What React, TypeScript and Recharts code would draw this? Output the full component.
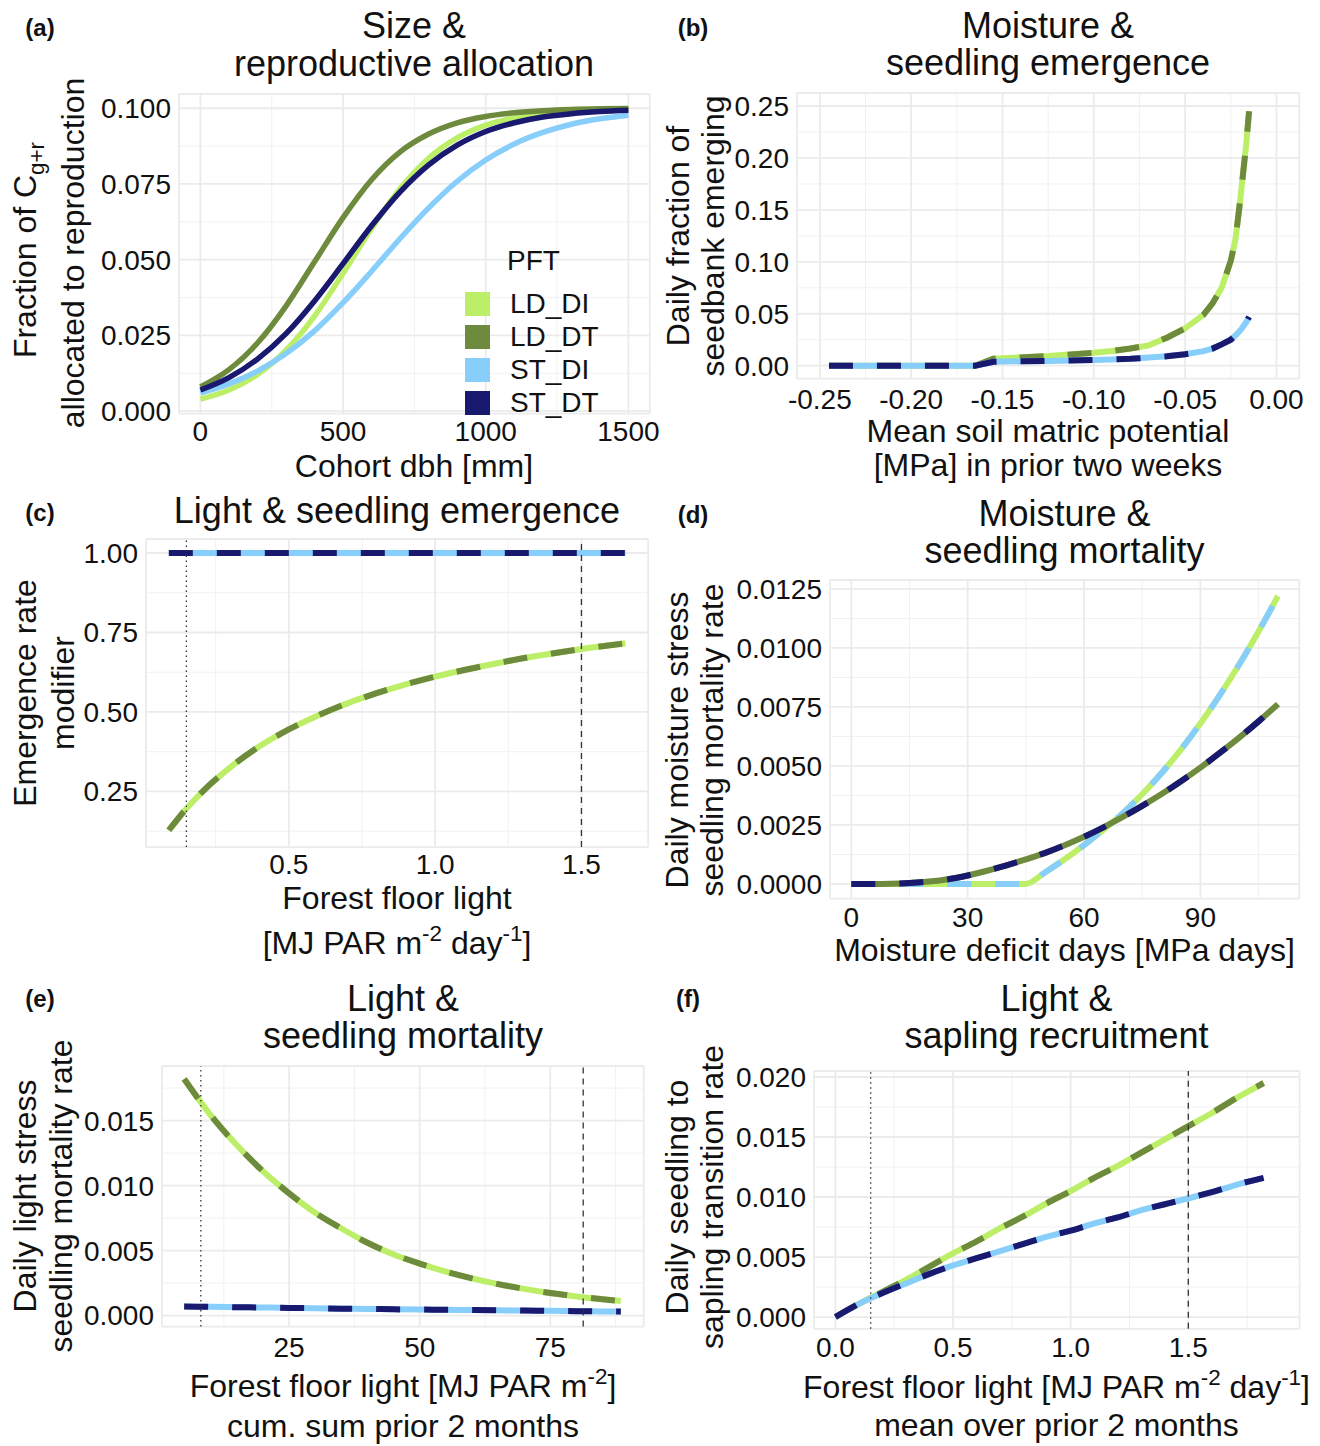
import { LineChart, Line, XAxis, YAxis, CartesianGrid, ReferenceLine } from "recharts";
import type { ReactNode } from "react";

const FONT = '"Liberation Sans", Arial, Helvetica, sans-serif';
const INK = "#111111";
const TICK = 28;
const AXT = 32;
const TTL = 36;
const TAG = 24;

// PFT colours
const LD_DI = "#bcee68";
const LD_DT = "#6e8b3d";
const ST_DI = "#87cefa";
const ST_DT = "#191970";
const pftNames = ["LD_DI", "LD_DT", "ST_DI", "ST_DT"];
const pftColors = [LD_DI, LD_DT, ST_DI, ST_DT];

// (a) size & reproductive allocation
const dbhMm = [0, 100, 200, 300, 400, 500, 600, 700, 800, 900, 1000, 1100, 1200, 1300, 1400, 1500];
const allocLdDi = [0.004, 0.007, 0.0121, 0.0201, 0.0314, 0.0455, 0.0603, 0.0735, 0.0835, 0.0902, 0.0944, 0.0968, 0.0982, 0.099, 0.0995, 0.0997];
const allocLdDt = [0.008, 0.0137, 0.0225, 0.0347, 0.0493, 0.0639, 0.0764, 0.0856, 0.0915, 0.0952, 0.0973, 0.0985, 0.0992, 0.0996, 0.0998, 0.0999];
const allocStDi = [0.006, 0.009, 0.0132, 0.019, 0.0265, 0.0358, 0.0462, 0.057, 0.0671, 0.0759, 0.0829, 0.0882, 0.092, 0.0947, 0.0965, 0.0977];
const allocStDt = [0.007, 0.0111, 0.0172, 0.0256, 0.0364, 0.0487, 0.0612, 0.0724, 0.0813, 0.0878, 0.0923, 0.0952, 0.0971, 0.0982, 0.0989, 0.0993];
const dbhTicks = [0, 500, 1000, 1500];
const dbhMinor = [250, 750, 1250];
const allocTicks = [0, 0.025, 0.05, 0.075, 0.1];
const allocMinor = [0.0125, 0.0375, 0.0625, 0.0875];

// (b) moisture & seedling emergence
const psiMpa = [-0.245, -0.225, -0.2, -0.175, -0.165, -0.155, -0.15, -0.125, -0.1, -0.09, -0.08, -0.07, -0.06, -0.05, -0.04, -0.035, -0.03, -0.025, -0.0225, -0.02, -0.0165, -0.015];
const emergeLd = [0, 0, 0, 0, 0, 0.0068, 0.0072, 0.0093, 0.0125, 0.0142, 0.0165, 0.0196, 0.027, 0.036, 0.049, 0.06, 0.075, 0.101, 0.121, 0.157, 0.214, 0.245];
const emergeSt = [0, 0, 0, 0, 0, 0.0038, 0.004, 0.0045, 0.0055, 0.006, 0.0066, 0.0078, 0.009, 0.011, 0.014, 0.0165, 0.0205, 0.025, 0.029, 0.0335, 0.042, 0.047];
const psiTicks = [-0.25, -0.2, -0.15, -0.1, -0.05, 0];
const psiMinor = [-0.225, -0.175, -0.125, -0.075, -0.025];
const emergeTicks = [0, 0.05, 0.1, 0.15, 0.2, 0.25];
const emergeMinor = [0.025, 0.075, 0.125, 0.175, 0.225];

// (c) light & seedling emergence
const lightDay = [0.09, 0.15, 0.2, 0.3, 0.4, 0.5, 0.6, 0.7, 0.8, 0.9, 1.0, 1.1, 1.2, 1.3, 1.4, 1.5, 1.65];
const lightModLd = [0.128, 0.196, 0.245, 0.326, 0.392, 0.445, 0.489, 0.527, 0.559, 0.587, 0.611, 0.632, 0.651, 0.669, 0.684, 0.698, 0.716];
const lightModSt = [1, 1, 1, 1, 1, 1, 1, 1, 1, 1, 1, 1, 1, 1, 1, 1, 1];
const lightDayTicks = [0.5, 1, 1.5];
const lightDayMinor = [0.25, 0.75, 1.25];
const modTicks = [0.25, 0.5, 0.75, 1];
const modMinor = [0.125, 0.375, 0.625, 0.875];

// (d) moisture & seedling mortality
const mddDays = [0, 5, 10, 15, 20, 25, 30, 35, 40, 45, 50, 55, 60, 65, 70, 75, 80, 85, 90, 95, 100, 105, 110];
const moistMortDi = [0, 0, 0, 0, 0, 0, 0, 0, 0, 0, 0.0005, 0.00105, 0.00165, 0.0023, 0.003, 0.0038, 0.0047, 0.0057, 0.0068, 0.008, 0.0093, 0.0107, 0.0122];
const moistMortDt = [0, 0, 0.00001, 0.00004, 0.0001, 0.0002, 0.00036, 0.00056, 0.00079, 0.00104, 0.00132, 0.00164, 0.002, 0.0024, 0.00284, 0.00331, 0.00381, 0.00435, 0.00493, 0.00555, 0.0062, 0.00689, 0.00762];
const mddTicks = [0, 30, 60, 90];
const mddMinor = [15, 45, 75, 105];
const moistMortTicks = [0, 0.0025, 0.005, 0.0075, 0.01, 0.0125];
const moistMortMinor = [0.00125, 0.00375, 0.00625, 0.00875, 0.01125];

// (e) light & seedling mortality
const lightCum = [4.9, 10, 15, 20, 25, 30, 35, 40, 45, 50, 55, 60, 65, 70, 75, 80, 85, 88.5];
const lightMortLd = [0.0182, 0.0154, 0.0131, 0.0111, 0.0094, 0.0079, 0.0067, 0.0056, 0.0047, 0.004, 0.00338, 0.00286, 0.00242, 0.00205, 0.00173, 0.00147, 0.00125, 0.00112];
const lightMortSt = [0.0007, 0.00067, 0.00064, 0.00062, 0.00059, 0.00056, 0.00053, 0.00051, 0.00048, 0.00046, 0.00044, 0.00042, 0.0004, 0.00038, 0.00036, 0.00034, 0.00032, 0.00031];
const lightCumTicks = [25, 50, 75];
const lightCumMinor = [12.5, 37.5, 62.5, 87.5];
const lightMortTicks = [0, 0.005, 0.01, 0.015];
const lightMortMinor = [0.0025, 0.0075, 0.0125, 0.0175];

// (f) light & sapling recruitment
const lightMean = [0, 0.1, 0.2, 0.3, 0.4, 0.5, 0.6, 0.7, 0.8, 0.9, 1.0, 1.1, 1.2, 1.3, 1.4, 1.5, 1.6, 1.7, 1.82];
const transLd = [0, 0.0011, 0.0021, 0.0031, 0.0042, 0.0053, 0.0063, 0.0074, 0.0084, 0.0095, 0.0105, 0.0116, 0.0126, 0.0137, 0.0148, 0.0159, 0.017, 0.0182, 0.0195];
const transSt = [0, 0.0011, 0.002, 0.0028, 0.0036, 0.0043, 0.0049, 0.0055, 0.0061, 0.0067, 0.0072, 0.0078, 0.0083, 0.0089, 0.0094, 0.0099, 0.0104, 0.011, 0.0116];
const lightMeanTicks = [0, 0.5, 1, 1.5];
const lightMeanMinor = [0.25, 0.75, 1.25, 1.75];
const transTicks = [0, 0.005, 0.01, 0.015, 0.02];
const transMinor = [0.0025, 0.0075, 0.0125, 0.0175];

// light thresholds (daily mean and 2-month sum)
const dayLow = 0.15;
const dayHigh = 1.5;
const cumLow = 8.1;
const cumHigh = 81.3;

type Row = Record<string, number>;
function rows(x: number[], cols: Record<string, number[]>): Row[] {
  return x.map((v, i) => {
    const r: Row = { x: v };
    for (const k of Object.keys(cols)) r[k] = cols[k][i];
    return r;
  });
}

type Series = { key: string; color: string; dashed?: boolean };
const pairSeries: Series[] = [
  { key: "LD_DI", color: LD_DI },
  { key: "LD_DT", color: LD_DT, dashed: true },
  { key: "ST_DI", color: ST_DI },
  { key: "ST_DT", color: ST_DT, dashed: true },
];

interface PanelProps {
  box: [number, number, number, number];
  data: Row[];
  xDomain: [number, number];
  yDomain: [number, number];
  xTicks: number[];
  yTicks: number[];
  xMinor: number[];
  yMinor: number[];
  xFmt: (v: number) => string;
  yFmt: (v: number) => string;
  series: Series[];
  xGap: number;
  curve: "monotone" | "linear";
  lw: number;
  vlines?: { x: number; dash: string }[];
}

const YW = 130;
const PT = 10;
const PR = 10;
const XH = 60;

function Panel(p: PanelProps) {
  const [l, t, r, b] = p.box;
  const tick = { fontSize: TICK, fill: INK, fontFamily: FONT };
  return (
    <div style={{ position: "absolute", left: l - YW, top: t - PT }}>
      <LineChart width={r - l + YW + PR} height={b - t + PT + XH} data={p.data} margin={{ top: PT, right: PR, bottom: 0, left: 0 }}>
        <CartesianGrid stroke="#f1f1f1" strokeWidth={1} horizontalValues={p.yMinor} verticalValues={p.xMinor} />
        <CartesianGrid stroke="#ebebeb" strokeWidth={1.8} />
        <XAxis type="number" dataKey="x" domain={p.xDomain} ticks={p.xTicks} allowDataOverflow interval={0}
          axisLine={false} tickLine={false} tickSize={0} tickMargin={p.xGap} height={XH} tick={tick} tickFormatter={p.xFmt} />
        <YAxis type="number" domain={p.yDomain} ticks={p.yTicks} allowDataOverflow interval={0}
          axisLine={false} tickLine={false} tickSize={0} tickMargin={8} width={YW} tick={tick} tickFormatter={p.yFmt} />
        {p.series.map((s) => (
          <Line key={s.key} dataKey={s.key} type={p.curve} stroke={s.color} strokeWidth={p.lw}
            strokeDasharray={s.dashed ? "24 24" : undefined} dot={false} activeDot={false} isAnimationActive={false} />
        ))}
        {(p.vlines || []).map((v) => (
          <ReferenceLine key={v.x} x={v.x} stroke="#333333" strokeWidth={1.3} strokeDasharray={v.dash} />
        ))}
      </LineChart>
    </div>
  );
}

function T(props: { x: number; y: number; size: number; rot?: boolean; bold?: boolean; children: ReactNode }) {
  return (
    <div style={{
      position: "absolute", left: props.x, top: props.y,
      transform: `translate(-50%, -50%)${props.rot ? " rotate(-90deg)" : ""}`,
      fontSize: props.size, fontWeight: props.bold ? 700 : 400, lineHeight: 1, whiteSpace: "nowrap", color: INK,
    }}>{props.children}</div>
  );
}

const Sup = ({ children }: { children: ReactNode }) => (
  <span style={{ fontSize: "0.7em", position: "relative", top: "-0.6em" }}>{children}</span>
);
const Sub = ({ children }: { children: ReactNode }) => (
  <span style={{ fontSize: "0.7em", position: "relative", top: "0.35em" }}>{children}</span>
);

const f = (d: number) => (v: number) => v.toFixed(d);
const DOT = "1.5 3.5";
const DASH = "6 5";

export default function App() {
  return (
    <div style={{ position: "relative", width: 1320, height: 1446, background: "#fff", fontFamily: FONT, overflow: "hidden" }}>
      <style>{"body{margin:0}"}</style>

      {/* (a) */}
      <Panel box={[178.6, 93.8, 649.4, 413.4]}
        data={rows(dbhMm, { LD_DI: allocLdDi, LD_DT: allocLdDt, ST_DI: allocStDi, ST_DT: allocStDt })}
        xDomain={[-75, 1575]} yDomain={[-0.0008, 0.1047]} xTicks={dbhTicks} yTicks={allocTicks}
        xMinor={dbhMinor} yMinor={allocMinor} xFmt={f(0)} yFmt={f(3)}
        series={pftNames.map((k, i) => ({ key: k, color: pftColors[i] }))} xGap={8} curve="monotone" lw={5.5} />
      <T x={40} y={28} size={TAG} bold>(a)</T>
      <T x={414} y={26} size={TTL}>Size &amp;</T>
      <T x={414} y={63.5} size={TTL}>reproductive allocation</T>
      <T x={25} y={250} size={AXT} rot>Fraction of C<Sub>g+r</Sub></T>
      <T x={73} y={253} size={AXT} rot>allocated to reproduction</T>
      <T x={414} y={466} size={AXT}>Cohort dbh [mm]</T>
      <div style={{ position: "absolute", left: 507, top: 261 - 14, fontSize: 28, lineHeight: 1, color: INK }}>PFT</div>
      {pftNames.map((n, i) => (
        <div key={n}>
          <div style={{ position: "absolute", left: 465, top: 292 + i * 33, width: 25, height: 24, background: pftColors[i] }} />
          <div style={{ position: "absolute", left: 510, top: 304 + i * 33 - 14, fontSize: 28, lineHeight: 1, color: INK }}>{n}</div>
        </div>
      ))}

      {/* (b) */}
      <Panel box={[797.2, 93.0, 1299.5, 378.7]}
        data={rows(psiMpa, { LD_DI: emergeLd, LD_DT: emergeLd, ST_DI: emergeSt, ST_DT: emergeSt })}
        xDomain={[-0.2625, 0.0125]} yDomain={[-0.0125, 0.2625]} xTicks={psiTicks} yTicks={emergeTicks}
        xMinor={psiMinor} yMinor={emergeMinor} xFmt={f(2)} yFmt={f(2)}
        series={pairSeries} xGap={10} curve="linear" lw={6} />
      <T x={693} y={28} size={TAG} bold>(b)</T>
      <T x={1048} y={26} size={TTL}>Moisture &amp;</T>
      <T x={1048} y={63} size={TTL}>seedling emergence</T>
      <T x={678} y={236} size={AXT} rot>Daily fraction of</T>
      <T x={713} y={236} size={AXT} rot>seedbank emerging</T>
      <T x={1048} y={431} size={AXT}>Mean soil matric potential</T>
      <T x={1048} y={465} size={AXT}>[MPa] in prior two weeks</T>

      {/* (c) */}
      <Panel box={[145.6, 539.3, 647.8, 847.4]}
        data={rows(lightDay, { LD_DI: lightModLd, LD_DT: lightModLd, ST_DI: lightModSt, ST_DT: lightModSt })}
        xDomain={[0.012, 1.728]} yDomain={[0.075, 1.044]} xTicks={lightDayTicks} yTicks={modTicks}
        xMinor={lightDayMinor} yMinor={modMinor} xFmt={f(1)} yFmt={f(2)}
        series={pairSeries} xGap={7} curve="monotone" lw={6}
        vlines={[{ x: dayLow, dash: DOT }, { x: dayHigh, dash: DASH }]} />
      <T x={40} y={513} size={TAG} bold>(c)</T>
      <T x={397} y={511} size={TTL}>Light &amp; seedling emergence</T>
      <T x={25} y={693} size={AXT} rot>Emergence rate</T>
      <T x={63} y={693} size={AXT} rot>modifier</T>
      <T x={397} y={897.5} size={AXT}>Forest floor light</T>
      <T x={397} y={943} size={AXT}>[MJ PAR m<Sup>-2</Sup> day<Sup>-1</Sup>]</T>

      {/* (d) */}
      <Panel box={[829.7, 580.3, 1299, 898.9]}
        data={rows(mddDays, { LD_DI: moistMortDi, ST_DI: moistMortDi, LD_DT: moistMortDt, ST_DT: moistMortDt })}
        xDomain={[-5.5, 115.5]} yDomain={[-0.00062, 0.01288]} xTicks={mddTicks} yTicks={moistMortTicks}
        xMinor={mddMinor} yMinor={moistMortMinor} xFmt={f(0)} yFmt={f(4)}
        series={[
          { key: "LD_DI", color: LD_DI },
          { key: "ST_DI", color: ST_DI, dashed: true },
          { key: "LD_DT", color: LD_DT },
          { key: "ST_DT", color: ST_DT, dashed: true },
        ]} xGap={9} curve="monotone" lw={6} />
      <T x={693} y={515} size={TAG} bold>(d)</T>
      <T x={1064.5} y={514} size={TTL}>Moisture &amp;</T>
      <T x={1064.5} y={551} size={TTL}>seedling mortality</T>
      <T x={677} y={740} size={AXT} rot>Daily moisture stress</T>
      <T x={712} y={740} size={AXT} rot>seedling mortality rate</T>
      <T x={1064.5} y={950} size={AXT}>Moisture deficit days [MPa days]</T>

      {/* (e) */}
      <Panel box={[162.1, 1066.4, 643.9, 1327]}
        data={rows(lightCum, { LD_DI: lightMortLd, LD_DT: lightMortLd, ST_DI: lightMortSt, ST_DT: lightMortSt })}
        xDomain={[0.66, 92.9]} yDomain={[-0.00085, 0.0192]} xTicks={lightCumTicks} yTicks={lightMortTicks}
        xMinor={lightCumMinor} yMinor={lightMortMinor} xFmt={f(0)} yFmt={f(3)}
        series={pairSeries} xGap={11} curve="monotone" lw={6}
        vlines={[{ x: cumLow, dash: DOT }, { x: cumHigh, dash: DASH }]} />
      <T x={40} y={999} size={TAG} bold>(e)</T>
      <T x={403} y={999} size={TTL}>Light &amp;</T>
      <T x={403} y={1036} size={TTL}>seedling mortality</T>
      <T x={25} y={1196} size={AXT} rot>Daily light stress</T>
      <T x={61} y={1196} size={AXT} rot>seedling mortality rate</T>
      <T x={403} y={1386} size={AXT}>Forest floor light [MJ PAR m<Sup>-2</Sup>]</T>
      <T x={403} y={1426} size={AXT}>cum. sum prior 2 months</T>

      {/* (f) */}
      <Panel box={[813.6, 1070.7, 1299.2, 1328.5]}
        data={rows(lightMean, { LD_DI: transLd, LD_DT: transLd, ST_DI: transSt, ST_DT: transSt })}
        xDomain={[-0.091, 1.973]} yDomain={[-0.00098, 0.0205]} xTicks={lightMeanTicks} yTicks={transTicks}
        xMinor={lightMeanMinor} yMinor={transMinor} xFmt={f(1)} yFmt={f(3)}
        series={pairSeries} xGap={8} curve="monotone" lw={6}
        vlines={[{ x: dayLow, dash: DOT }, { x: dayHigh, dash: DASH }]} />
      <T x={688} y={999} size={TAG} bold>(f)</T>
      <T x={1056.5} y={999} size={TTL}>Light &amp;</T>
      <T x={1056.5} y={1036} size={TTL}>sapling recruitment</T>
      <T x={677} y={1197} size={AXT} rot>Daily seedling to</T>
      <T x={712} y={1197} size={AXT} rot>sapling transition rate</T>
      <T x={1056.5} y={1387} size={AXT}>Forest floor light [MJ PAR m<Sup>-2</Sup> day<Sup>-1</Sup>]</T>
      <T x={1056.5} y={1425} size={AXT}>mean over prior 2 months</T>
    </div>
  );
}
